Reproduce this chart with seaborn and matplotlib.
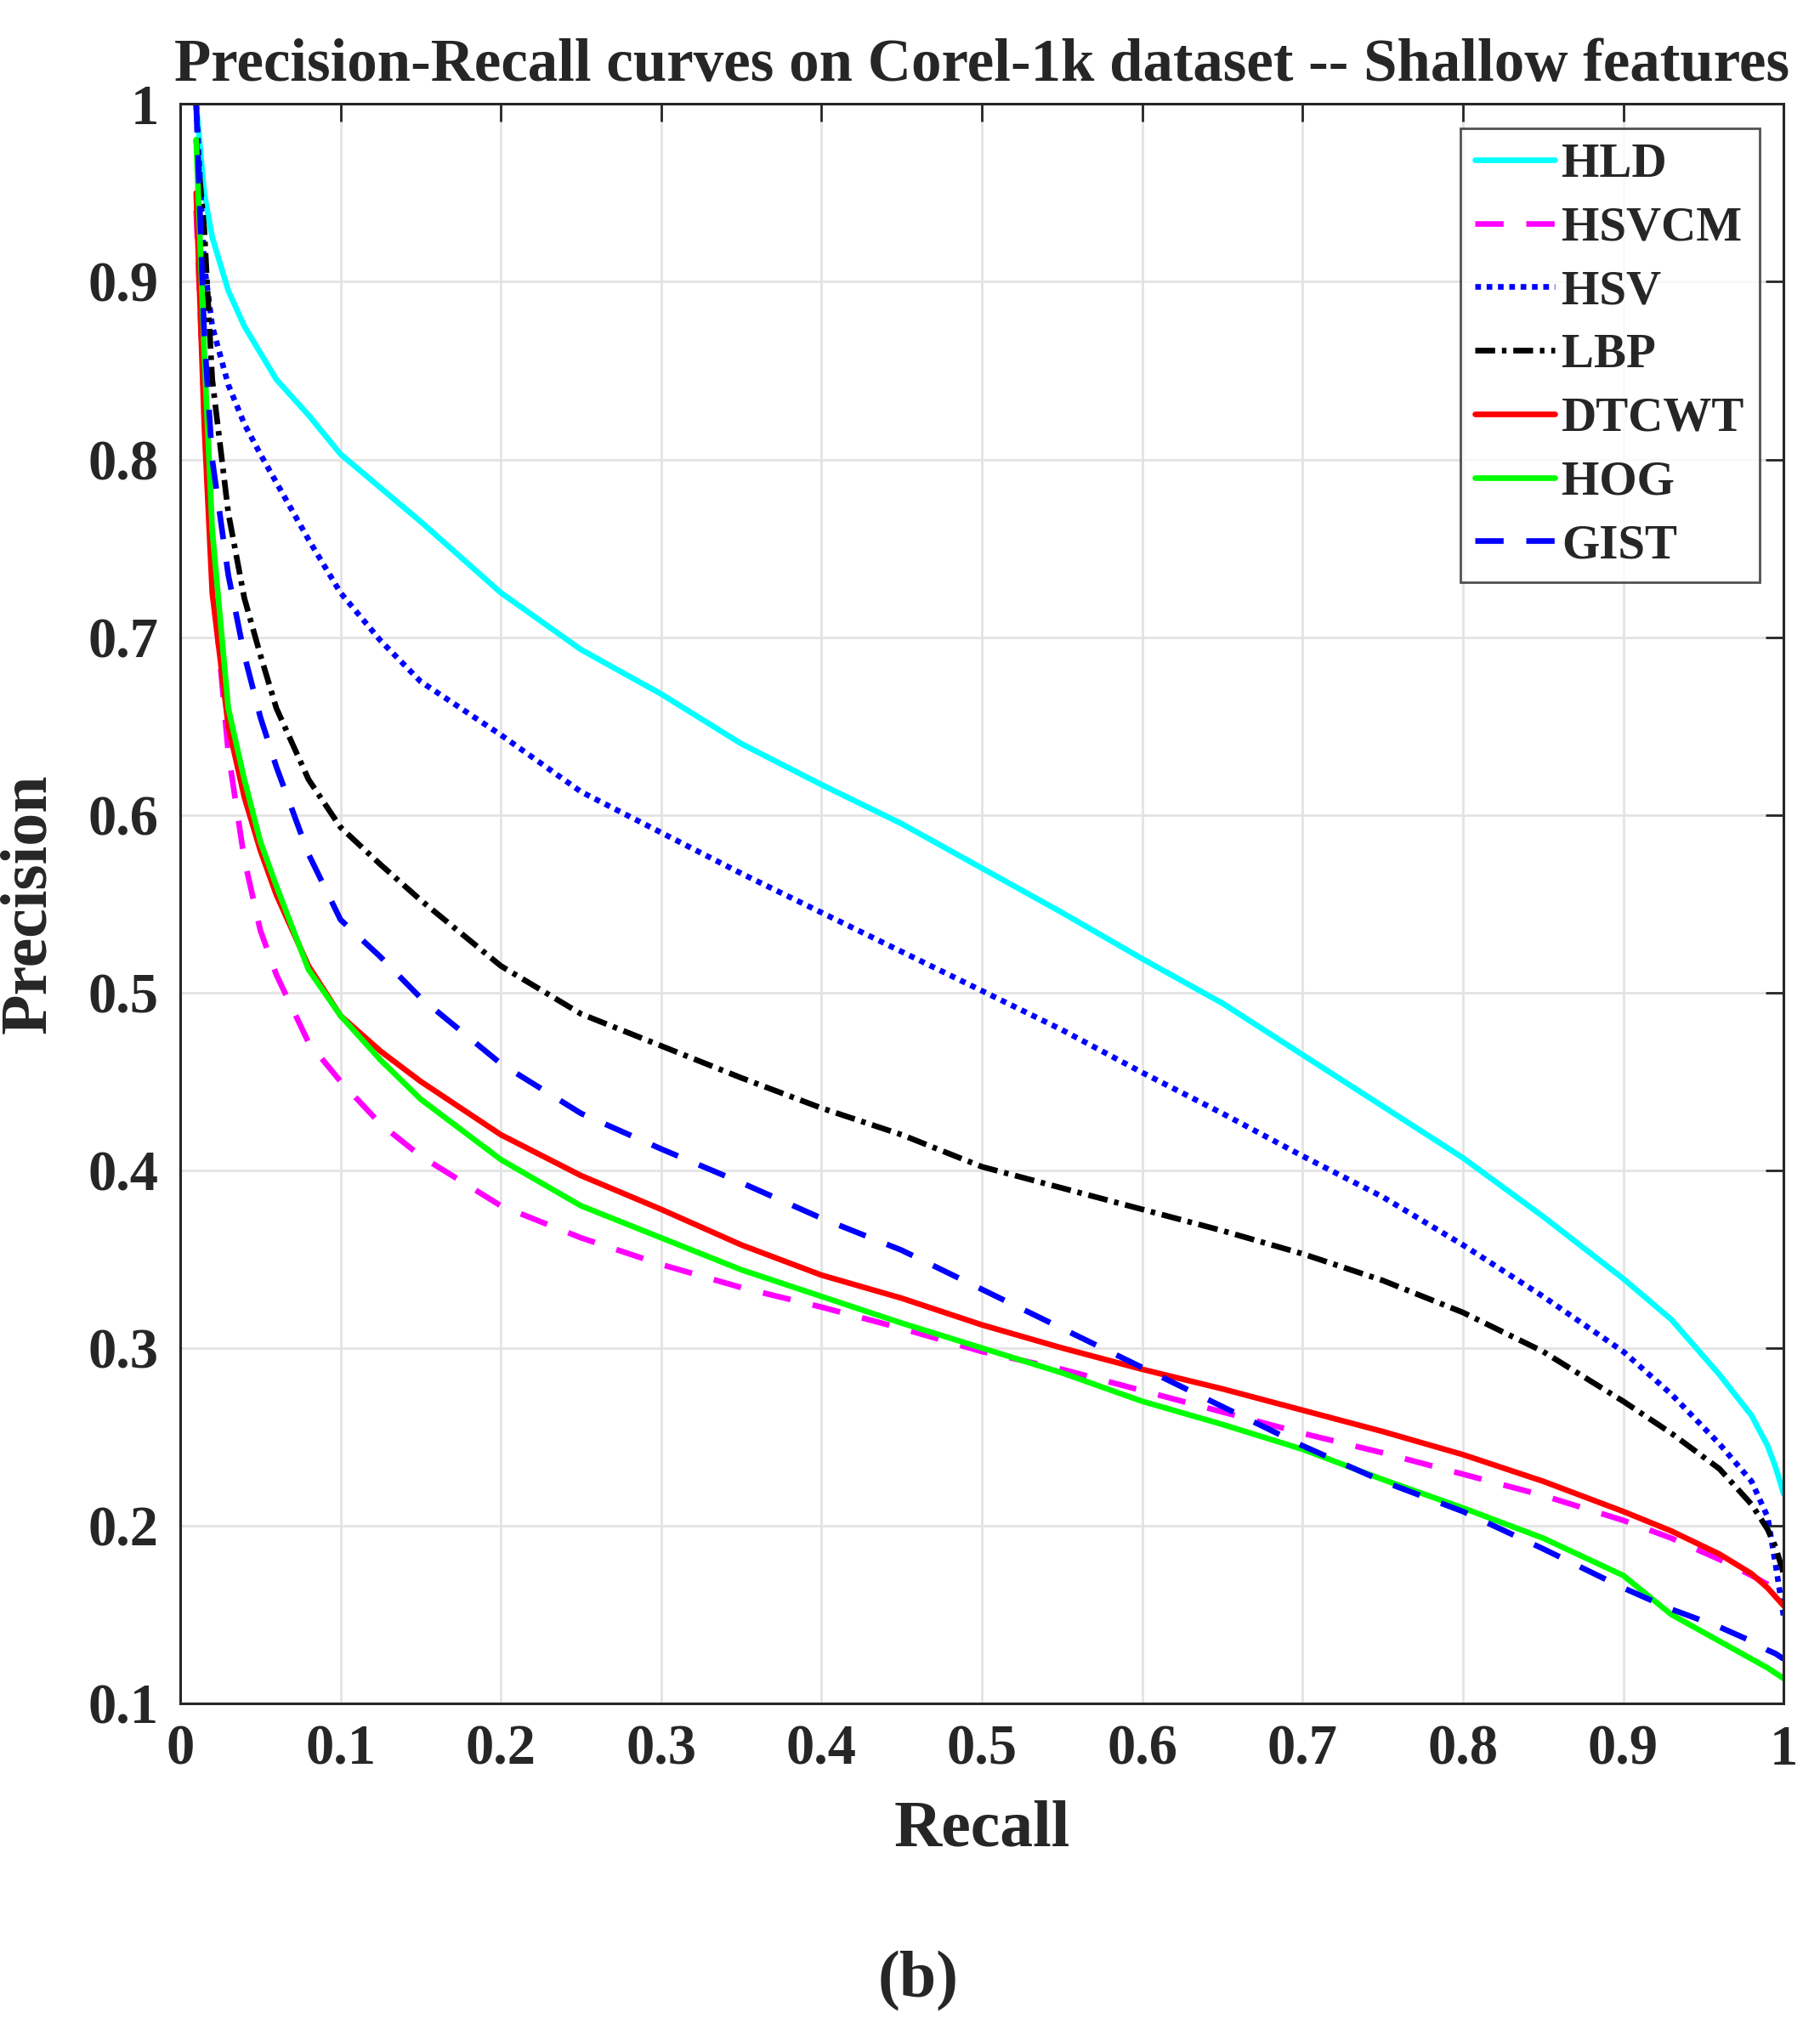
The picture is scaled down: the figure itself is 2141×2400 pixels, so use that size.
import numpy as np
import pandas as pd
import seaborn as sb
import matplotlib.pyplot as plt

# recall grid shared by all curves
recall = [0.01, 0.015, 0.02, 0.03, 0.04, 0.05, 0.06, 0.08, 0.1, 0.125, 0.15, 0.2,
          0.25, 0.3, 0.35, 0.4, 0.45, 0.5, 0.55, 0.6, 0.65, 0.7, 0.75, 0.8, 0.85,
          0.9, 0.93, 0.96, 0.98, 0.99, 0.995, 1.0]

hld = [1.0, 0.95, 0.925, 0.895, 0.875, 0.86, 0.845, 0.825, 0.803, 0.784, 0.765, 0.725,
       0.693, 0.668, 0.64, 0.617, 0.595, 0.57, 0.545, 0.519, 0.494, 0.465, 0.436, 0.407, 0.374,
       0.339, 0.316, 0.285, 0.262, 0.245, 0.233, 0.218]
hsvcm = [0.94, 0.83, 0.735, 0.635, 0.575, 0.535, 0.51, 0.472, 0.45, 0.426, 0.408, 0.38,
         0.362, 0.347, 0.334, 0.323, 0.311, 0.298, 0.288, 0.276, 0.264, 0.252, 0.241, 0.229, 0.217,
         0.203, 0.193, 0.181, 0.172, 0.167, 0.164, 0.161]
hsv = [1.0, 0.91, 0.875, 0.842, 0.82, 0.803, 0.787, 0.755, 0.725, 0.698, 0.675, 0.645,
       0.613, 0.59, 0.567, 0.545, 0.523, 0.501, 0.479, 0.455, 0.432, 0.408, 0.385, 0.358, 0.329,
       0.298, 0.274, 0.246, 0.225, 0.205, 0.178, 0.149]
lbp = [0.98, 0.93, 0.845, 0.77, 0.722, 0.69, 0.66, 0.62, 0.593, 0.572, 0.552, 0.515,
       0.488, 0.47, 0.452, 0.435, 0.42, 0.402, 0.39, 0.378, 0.366, 0.353, 0.338, 0.32, 0.298,
       0.27, 0.252, 0.232, 0.212, 0.198, 0.188, 0.173]
dtcwt = [0.95, 0.82, 0.725, 0.65, 0.61, 0.58, 0.555, 0.515, 0.487, 0.467, 0.45, 0.42,
         0.397, 0.378, 0.358, 0.341, 0.328, 0.313, 0.3, 0.288, 0.277, 0.265, 0.253, 0.24, 0.225,
         0.208, 0.197, 0.184, 0.173, 0.165, 0.16, 0.155]
hog = [0.98, 0.86, 0.76, 0.66, 0.62, 0.585, 0.56, 0.513, 0.487, 0.462, 0.44, 0.406,
       0.38, 0.362, 0.344, 0.329, 0.314, 0.3, 0.286, 0.27, 0.257, 0.243, 0.226, 0.21, 0.193,
       0.172, 0.15, 0.135, 0.125, 0.12, 0.117, 0.114]
gist = [1.0, 0.87, 0.8, 0.735, 0.69, 0.655, 0.627, 0.578, 0.541, 0.52, 0.497, 0.46,
        0.432, 0.412, 0.393, 0.373, 0.355, 0.333, 0.311, 0.289, 0.267, 0.245, 0.225, 0.208, 0.187,
        0.165, 0.153, 0.143, 0.135, 0.13, 0.128, 0.125]

names = ['HLD', 'HSVCM', 'HSV', 'LBP', 'DTCWT', 'HOG', 'GIST']
curves = [hld, hsvcm, hsv, lbp, dtcwt, hog, gist]
colors = ['#00ffff', '#ff00ff', '#0000ff', '#000000', '#ff0000', '#00ff00', '#0000ff']
dashes = [None, (5, 4), (1, 1), (3.5, 1.2, 0.8, 1.2), None, None, (5, 4)]

sb.set_style('white')
plt.rcParams['font.family'] = ['Liberation Serif', 'DejaVu Serif']
plt.rcParams['font.weight'] = 'bold'

fig = plt.figure(figsize=(10.705, 12), dpi=200)
ax = fig.add_axes([0.099, 0.165, 0.881, 0.784])

for name, vals, col, ds in zip(names, curves, colors, dashes):
    sb.lineplot(x=recall, y=vals, color=col, linewidth=2.4, label=name, ax=ax)
    line = ax.lines[-1]
    if ds is not None:
        line.set_dashes(ds)

ax.set_xlim(0, 1)
ax.set_ylim(0.1, 1)
ax.set_xticks(np.arange(0, 1.01, 0.1))
ax.set_yticks(np.arange(0.1, 1.01, 0.1))
ax.set_xticklabels(['0', '0.1', '0.2', '0.3', '0.4', '0.5', '0.6', '0.7', '0.8', '0.9', '1'])
ax.set_yticklabels(['0.1', '0.2', '0.3', '0.4', '0.5', '0.6', '0.7', '0.8', '0.9', '1'])
ax.grid(True, color='#e3e3e3', linewidth=1)
ax.tick_params(direction='in', length=7.5, width=1, colors='#262626', labelsize=24,
               top=True, right=True, pad=9)
for lab in ax.get_xticklabels() + ax.get_yticklabels():
    lab.set_fontweight('bold')
for sp in ax.spines.values():
    sp.set_color('#262626')
    sp.set_linewidth(1.1)

ax.set_xlabel('Recall', fontsize=28, fontweight='bold', labelpad=10)
ax.set_ylabel('Precision', fontsize=28, fontweight='bold', labelpad=12)
ax.set_title('Precision-Recall curves on Corel-1k dataset -- Shallow features',
             fontsize=25.5, fontweight='bold', pad=10)

leg = ax.legend(loc='upper right', fontsize=20.5, frameon=True, fancybox=False,
                handlelength=1.65, handletextpad=0.15, labelspacing=0.4,
                borderpad=0.3, borderaxespad=0.0, bbox_to_anchor=(0.985, 0.985))
leg.get_frame().set_edgecolor('#262626')
leg.get_frame().set_linewidth(1)
for t in leg.get_texts():
    t.set_fontweight('bold')

fig.text(0.5045, 0.029, '(b)', fontsize=28, fontweight='bold', ha='center', va='center')

fig.savefig('out.png', dpi=200, facecolor='white')
